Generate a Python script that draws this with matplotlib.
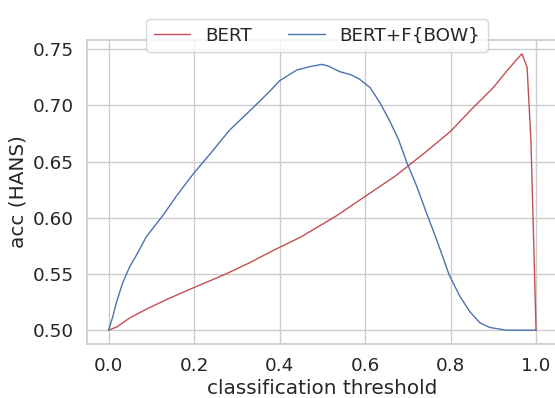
import matplotlib
matplotlib.use("Agg")
import matplotlib.pyplot as plt
import seaborn as sns

# accuracy on HANS vs classification threshold
bert_x = [0.0, 0.02, 0.05, 0.09, 0.14, 0.2, 0.25, 0.28, 0.33, 0.38, 0.45, 0.53,
          0.60, 0.67, 0.74, 0.80, 0.85, 0.90, 0.93, 0.955, 0.967, 0.979, 0.988, 1.0]
bert_y = [0.500, 0.503, 0.511, 0.519, 0.528, 0.538, 0.546, 0.551, 0.560, 0.570, 0.583, 0.601,
          0.619, 0.637, 0.658, 0.677, 0.697, 0.716, 0.730, 0.741, 0.746, 0.734, 0.669, 0.500]

bow_x = [0.0, 0.01, 0.018, 0.033, 0.049, 0.07, 0.088, 0.127, 0.16, 0.2, 0.24, 0.283,
         0.338, 0.378, 0.40, 0.44, 0.471, 0.499, 0.514, 0.541, 0.569, 0.588, 0.612, 0.635,
         0.658, 0.678, 0.698, 0.721, 0.744, 0.768, 0.797, 0.822, 0.846, 0.869, 0.892, 0.93, 1.0]
bow_y = [0.500, 0.512, 0.524, 0.542, 0.556, 0.570, 0.583, 0.602, 0.620, 0.640, 0.658, 0.678,
         0.698, 0.713, 0.722, 0.7315, 0.7346, 0.7366, 0.7351, 0.7301, 0.7271, 0.7232, 0.7158, 0.7024,
         0.686, 0.670, 0.649, 0.628, 0.604, 0.580, 0.549, 0.530, 0.516, 0.5065, 0.5024, 0.500, 0.500]

sns.set_theme(style="whitegrid", font_scale=1.2)
plt.rcParams['font.family'] = ['DejaVu Sans']

fig = plt.figure(figsize=(5.55, 3.98), dpi=100)
ax = fig.add_axes([0.157, 0.1357, 0.8474, 0.7638])

ax.plot(bert_x, bert_y, color="#C44E52", lw=1.0, label="BERT")
ax.plot(bow_x, bow_y, color="#4C72B0", lw=1.0, label="BERT+F{BOW}")

ax.set_xlabel("classification threshold", labelpad=3)
ax.set_ylabel("acc (HANS)")
ax.set_yticks([0.50, 0.55, 0.60, 0.65, 0.70, 0.75])

ax.legend(loc="upper center", ncol=2, bbox_to_anchor=(317 / 555, 1 - 10 / 398),
          bbox_transform=fig.transFigure)

fig.savefig("out.png", dpi=100)
